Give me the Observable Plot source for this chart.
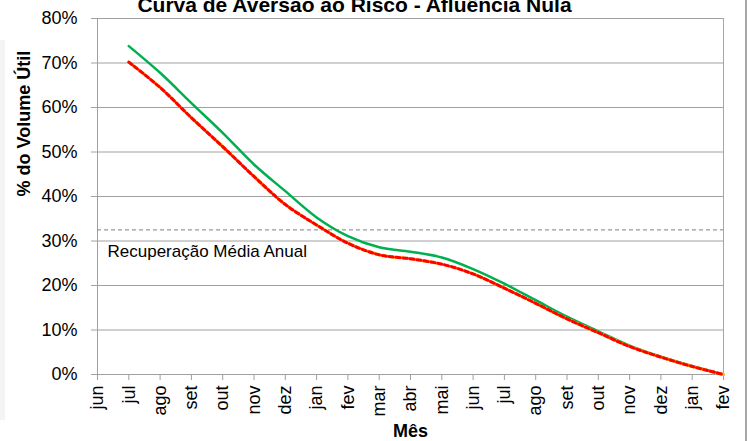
<!DOCTYPE html>
<html>
<head>
<meta charset="utf-8">
<script src="https://cdn.jsdelivr.net/npm/d3@7"></script>
<script src="https://cdn.jsdelivr.net/npm/@observablehq/plot@0.6"></script>
<style>
  html, body { margin: 0; padding: 0; background: #fff; }
  #wrap { position: relative; width: 748px; height: 441px; overflow: hidden; }
  #leftband { position: absolute; left: 0; top: 40px; width: 5px; height: 380px; background: #f4f4f4; }
  #rightline { position: absolute; left: 745px; top: 0; width: 2px; height: 441px; background: #a6a6a6; }
  svg { position: absolute; left: 0; top: 0; }
</style>
</head>
<body>
<div id="wrap"><div id="leftband"></div><div id="rightline"></div></div>
<script>
const months = ["jun","jul","ago","set","out","nov","dez","jan","fev","mar","abr","mai","jun","jul","ago","set","out","nov","dez","jan","fev"];
// values start at "jul" (index 1)
const curvaSuperior = [73.8, 67.8, 61.0, 54.3, 47.2, 41.2, 35.3, 31.1, 28.6, 27.6, 26.3, 23.7, 20.4, 16.7, 13.0, 9.7, 6.5, 4.0, 1.9, 0.0];
const curvaInferior = [70.2, 64.5, 57.7, 51.2, 44.5, 38.2, 33.6, 29.5, 26.9, 26.0, 24.8, 22.6, 19.4, 16.0, 12.5, 9.4, 6.3, 3.9, 1.8, 0.0];
const recuperacaoMedia = 32.5;
const yTicks = [0, 10, 20, 30, 40, 50, 60, 70, 80];
const titulo = "Curva de Aversão ao Risco - Afluência Nula";
const rotuloRef = "Recuperação Média Anual";

const sup = curvaSuperior.map((v, i) => ({i: i + 1, v}));
const inf = curvaInferior.map((v, i) => ({i: i + 1, v}));
const idx = months.map((m, i) => i);

const font = "'Liberation Sans', Arial, sans-serif";

const chart = Plot.plot({
  width: 748,
  height: 441,
  marginLeft: 97,
  marginRight: 25,
  marginTop: 18,
  marginBottom: 67,
  style: {fontFamily: font, fontSize: "18px", color: "#000", background: "transparent", overflow: "visible"},
  x: {type: "linear", domain: [0, months.length - 1]},
  y: {domain: [0, 80]},
  marks: [
    Plot.gridY(yTicks, {stroke: "#a0a0a0", strokeOpacity: 1, strokeWidth: 1}),
    Plot.ruleX([months.length - 1], {stroke: "#a6a6a6", strokeWidth: 1}),
    Plot.ruleX([0], {stroke: "#a0a0a0", strokeWidth: 1}),
    Plot.ruleY([0], {stroke: "#a0a0a0", strokeWidth: 1}),
    Plot.axisY(yTicks, {tickFormat: d => d + "%", tickSize: 6, tickPadding: 14, stroke: "#a0a0a0", fill: "#000", label: null, fontSize: 18}),
    Plot.axisX(idx, {tickFormat: i => months[i], tickRotate: -90, tickSize: 6, tickPadding: 5, stroke: "#a0a0a0", fill: "#000", label: null, fontSize: 18}),
    Plot.ruleY([recuperacaoMedia], {stroke: "#808080", strokeWidth: 1, strokeDasharray: "4,3"}),
    Plot.text([rotuloRef], {frameAnchor: "left", y: () => recuperacaoMedia, dx: 10, dy: 27, lineAnchor: "bottom", textAnchor: "start", fontSize: 17, fill: "#000"}),
    Plot.line(sup, {x: "i", y: "v", stroke: "#00B050", strokeWidth: 2.5, curve: "catmull-rom"}),
    Plot.line(inf, {x: "i", y: "v", stroke: "#FFC000", strokeWidth: 3, curve: "catmull-rom"}),
    Plot.line(inf, {x: "i", y: "v", stroke: "#FF0000", strokeWidth: 3, strokeDasharray: "4,3", curve: "catmull-rom"}),
    Plot.text([titulo], {frameAnchor: "top", dx: -56, dy: -7, lineAnchor: "bottom", fontWeight: "bold", fontSize: 21, fill: "#000"}),
    Plot.text(["% do Volume Útil"], {frameAnchor: "left", dx: -73, rotate: -90, lineAnchor: "middle", fontWeight: "bold", fontSize: 18, fill: "#000"}),
    Plot.text(["Mês"], {frameAnchor: "bottom", dy: 57, lineAnchor: "middle", fontWeight: "bold", fontSize: 18, fill: "#000"})
  ]
});
document.getElementById("wrap").appendChild(chart);
</script>
</body>
</html>
